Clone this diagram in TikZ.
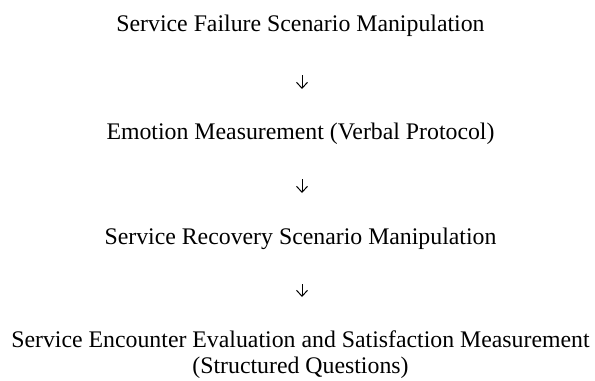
\documentclass[tikz,border=0pt]{standalone}
\usepackage{fontspec}
\setmainfont{Liberation Serif}
\usetikzlibrary{arrows.meta, positioning}

\begin{document}
\begin{tikzpicture}[>={Straight Barb[length=6bp,width=11bp]}, x=1bp, y=1bp,
    stage/.style={inner sep=0pt, anchor=base, align=center,
      font=\fontsize{23.8bp}{26bp}\selectfont},
    flow/.style={->, line width=1bp}]
    \useasboundingbox (0,0) rectangle (595,380);

    \node[stage] (failure) at (300.5,349) {Service Failure Scenario Manipulation};
    \node[stage] (emotion) at (300.5,241) {Emotion Measurement (Verbal Protocol)};
    \node[stage] (recovery) at (300.5,136) {Service Recovery Scenario Manipulation};
    % base of a two-line node is its last line
    \node[stage] (evaluation) at (300.5,7)
      {Service Encounter Evaluation and Satisfaction Measurement\\(Structured Questions)};

    % arrows between the stages
    \draw[flow, shorten <=44bp, shorten >=50bp]
      ([xshift=1.5bp]failure.base) -- ([xshift=1.5bp]emotion.base);
    \draw[flow, shorten <=40bp, shorten >=51bp]
      ([xshift=1.5bp]emotion.base) -- ([xshift=1.5bp]recovery.base);
    \draw[flow, shorten <=40bp, shorten >=76bp]
      ([xshift=1.5bp]recovery.base) -- ([xshift=1.5bp]evaluation.base);
\end{tikzpicture}
\end{document}
